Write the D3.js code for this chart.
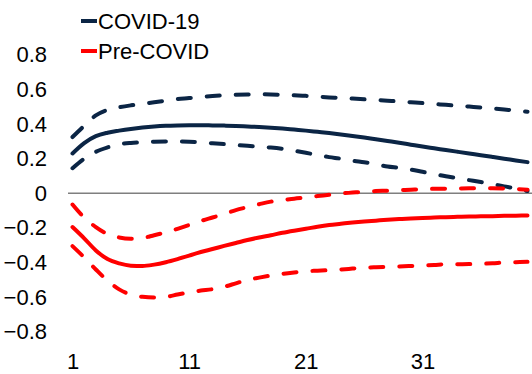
<!DOCTYPE html>
<html>
<head>
<meta charset="utf-8">
<script src="https://cdn.jsdelivr.net/npm/d3@7"></script>
<style>
  html, body { margin: 0; padding: 0; background: #fff; }
  svg { display: block; font-family: "Liberation Sans", Arial, sans-serif; }
</style>
</head>
<body>
<svg id="chart" width="532" height="374"></svg>
<script>
// ---- Data ----
const periods = d3.range(1, 41);
const xTickLabels = [1, 11, 21, 31];
const yTickValues = [-0.8, -0.6, -0.4, -0.2, 0, 0.2, 0.4, 0.6, 0.8];

const covid = [0.23, 0.29, 0.33, 0.35, 0.362, 0.372, 0.38, 0.386, 0.39, 0.392,
  0.393, 0.393, 0.392, 0.391, 0.389, 0.386, 0.383, 0.379, 0.374, 0.368,
  0.362, 0.355, 0.348, 0.340, 0.331, 0.322, 0.312, 0.302, 0.292, 0.281,
  0.270, 0.260, 0.250, 0.240, 0.230, 0.220, 0.210, 0.200, 0.190, 0.180];
const covidUpper = [0.325, 0.39, 0.45, 0.482, 0.497, 0.508, 0.517, 0.526, 0.535, 0.544,
  0.55, 0.557, 0.562, 0.566, 0.569, 0.571, 0.572, 0.571, 0.569, 0.566,
  0.563, 0.558, 0.554, 0.551, 0.547, 0.543, 0.539, 0.535, 0.531, 0.526,
  0.521, 0.516, 0.511, 0.506, 0.501, 0.496, 0.490, 0.484, 0.478, 0.471];
const covidLower = [0.145, 0.20, 0.24, 0.265, 0.283, 0.291, 0.295, 0.298, 0.299, 0.299,
  0.298, 0.294, 0.289, 0.284, 0.279, 0.274, 0.268, 0.264, 0.257, 0.246,
  0.234, 0.221, 0.209, 0.200, 0.188, 0.179, 0.168, 0.155, 0.147, 0.137,
  0.124, 0.111, 0.098, 0.087, 0.076, 0.065, 0.053, 0.040, 0.028, 0.013];
const pre = [-0.195, -0.26, -0.33, -0.38, -0.405, -0.418, -0.42, -0.412, -0.398, -0.38,
  -0.36, -0.339, -0.322, -0.304, -0.287, -0.27, -0.255, -0.242, -0.228, -0.216,
  -0.205, -0.193, -0.183, -0.176, -0.169, -0.163, -0.158, -0.153, -0.149, -0.145,
  -0.142, -0.140, -0.138, -0.136, -0.134, -0.133, -0.132, -0.130, -0.129, -0.128];
const preUpper = [-0.065, -0.14, -0.195, -0.235, -0.255, -0.262, -0.258, -0.242, -0.226, -0.205,
  -0.183, -0.16, -0.14, -0.12, -0.097, -0.08, -0.063, -0.048, -0.04, -0.031,
  -0.024, -0.016, -0.009, -0.001, 0.004, 0.009, 0.013, 0.015, 0.018, 0.021,
  0.024, 0.026, 0.027, 0.028, 0.029, 0.029, 0.029, 0.028, 0.025, 0.021];
const preLower = [-0.305, -0.37, -0.44, -0.505, -0.555, -0.585, -0.598, -0.602, -0.598, -0.585,
  -0.572, -0.562, -0.554, -0.54, -0.52, -0.5, -0.487, -0.475, -0.465, -0.457,
  -0.45, -0.447, -0.444, -0.44, -0.435, -0.43, -0.427, -0.425, -0.423, -0.42,
  -0.417, -0.414, -0.41, -0.41, -0.409, -0.407, -0.404, -0.4, -0.398, -0.396];

const NAVY = "#0b2545";
const RED = "#ff0000";

const seriesList = [
  { values: covidUpper, color: NAVY, dashed: true },
  { values: covidLower, color: NAVY, dashed: true },
  { values: covid, color: NAVY, dashed: false },
  { values: preUpper, color: RED, dashed: true },
  { values: preLower, color: RED, dashed: true },
  { values: pre, color: RED, dashed: false }
];

// ---- Scales ----
const svg = d3.select("#chart");
const x = d3.scaleLinear().domain([1, 40]).range([72.5, 527.5]);
const y = d3.scaleLinear().domain([-0.8, 0.8]).range([331.8, 54.8]);

// Y axis labels
const yAxis = d3.axisLeft(y).tickValues(yTickValues).tickSize(0).tickPadding(0)
  .tickFormat(d => d === 0 ? "0" : d3.format(".1f")(d));
const gy = svg.append("g").attr("transform", "translate(47,0)").call(yAxis);
gy.select(".domain").remove();
gy.selectAll("text").attr("font-size", 22).attr("fill", "#000")
  .attr("font-family", "Liberation Sans, Arial, sans-serif");

// X axis labels
const xAxis = d3.axisBottom(x).tickValues(xTickLabels).tickSize(0).tickPadding(0);
const gx = svg.append("g").attr("transform", "translate(0,353)").call(xAxis);
gx.select(".domain").remove();
gx.selectAll("text").attr("font-size", 22).attr("fill", "#000").attr("dy", "0.71em")
  .attr("font-family", "Liberation Sans, Arial, sans-serif");

// Zero line
svg.append("line")
  .attr("x1", 68).attr("x2", 532)
  .attr("y1", y(0)).attr("y2", y(0))
  .attr("stroke", "#7f7f7f").attr("stroke-width", 1.5);

// Lines
const line = d3.line()
  .x((d, i) => x(periods[i]))
  .y(d => y(d))
  .curve(d3.curveMonotoneX);

svg.selectAll("path.series")
  .data(seriesList)
  .join("path")
  .attr("class", "series")
  .attr("d", s => line(s.values))
  .attr("fill", "none")
  .attr("stroke", s => s.color)
  .attr("stroke-width", 4)
  .attr("stroke-linecap", "round")
  .attr("stroke-dasharray", s => s.dashed ? "13,16" : null);

// Legend
const legendItems = [
  { label: "COVID-19", color: NAVY, yc: 21 },
  { label: "Pre-COVID", color: RED, yc: 51 }
];
const lg = svg.append("g");
legendItems.forEach(it => {
  lg.append("line").attr("x1", 81).attr("x2", 97).attr("y1", it.yc).attr("y2", it.yc)
    .attr("stroke", it.color).attr("stroke-width", 4);
  lg.append("text").attr("x", 98).attr("y", it.yc + 8)
    .attr("font-size", 22).attr("fill", "#000").text(it.label);
});
</script>
</body>
</html>
